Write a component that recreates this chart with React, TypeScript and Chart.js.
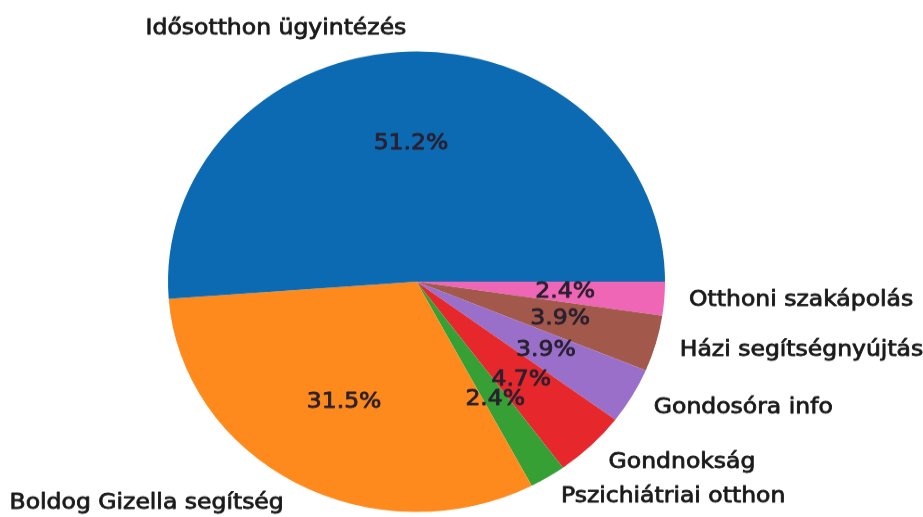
import React, { useEffect, useRef } from 'react';
import { Chart, registerables } from 'chart.js';

Chart.register(...registerables);

const categories = [
  'Idősotthon ügyintézés',
  'Boldog Gizella segítség',
  'Pszichiátriai otthon',
  'Gondnokság',
  'Gondosóra info',
  'Házi segítségnyújtás',
  'Otthoni szakápolás',
];
const counts = [65, 40, 3, 6, 5, 5, 3];
const colors = ['#0c6ab3', '#fe8a1d', '#36a035', '#e6282c', '#9a6fca', '#a3584c', '#ee66b5'];

const W = 923;
const H_VIEW = 517;
const H = 558;

export default function App() {
  const ref = useRef<HTMLCanvasElement>(null);

  useEffect(() => {
    if (!ref.current) return;
    const total = counts.reduce((a, b) => a + b, 0);
    // matplotlib draws counter-clockwise from 3 o'clock; Chart.js draws clockwise,
    // so feed the slices in reverse order starting at 3 o'clock.
    const order = categories.map((_, i) => i).reverse();

    const labelPlugin = {
      id: 'mplLabels',
      afterDatasetsDraw(chart: any) {
        const ctx = chart.ctx as CanvasRenderingContext2D;
        const meta = chart.getDatasetMeta(0);
        ctx.save();
        ctx.font = '23.5px "DejaVu Sans"';
        ctx.textBaseline = 'middle';
        ctx.lineJoin = 'round';
        ctx.lineWidth = 0.9;
        const put = (t: string, px: number, py: number, col: string) => {
          ctx.fillStyle = col;
          ctx.strokeStyle = col;
          ctx.fillText(t, px, py);
          ctx.strokeText(t, px, py);
        };
        meta.data.forEach((arc: any, j: number) => {
          const i = order[j];
          const { x, y, startAngle, endAngle, outerRadius } = arc.getProps(
            ['x', 'y', 'startAngle', 'endAngle', 'outerRadius'],
            true
          );
          const mid = (startAngle + endAngle) / 2;
          const c = Math.cos(mid);
          const s = Math.sin(mid);
          ctx.textAlign = c > 0 ? 'left' : 'right';
          put(categories[i], x + c * outerRadius * 1.1, y + s * outerRadius * 1.1, '#1a1a1a');
          ctx.textAlign = 'center';
          put(
            ((counts[i] / total) * 100).toFixed(1) + '%',
            x + c * outerRadius * 0.6,
            y + s * outerRadius * 0.6,
            '#2a2030'
          );
        });
        ctx.restore();
      },
    };

    const chart = new Chart(ref.current, {
      type: 'pie',
      data: {
        labels: order.map((i) => categories[i]),
        datasets: [
          {
            data: order.map((i) => counts[i]),
            backgroundColor: order.map((i) => colors[i]),
            borderWidth: 0,
            hoverOffset: 0,
          },
        ],
      },
      options: {
        responsive: false,
        animation: false,
        rotation: 90,
        layout: { padding: { left: 168, right: 258, top: 55, bottom: 5 } },
        plugins: {
          legend: { display: false },
          tooltip: { enabled: false },
        },
      },
      plugins: [labelPlugin],
    });
    return () => chart.destroy();
  }, []);

  return (
    <div
      style={{
        position: 'fixed',
        left: 0,
        top: 0,
        width: W,
        height: H_VIEW,
        overflow: 'hidden',
        background: '#ffffff',
      }}
    >
      <div style={{ width: W, height: H, transform: `scaleY(${H_VIEW / H})`, transformOrigin: '0 0' }}>
        <canvas ref={ref} width={W} height={H} style={{ width: W, height: H, display: 'block' }} />
      </div>
    </div>
  );
}
